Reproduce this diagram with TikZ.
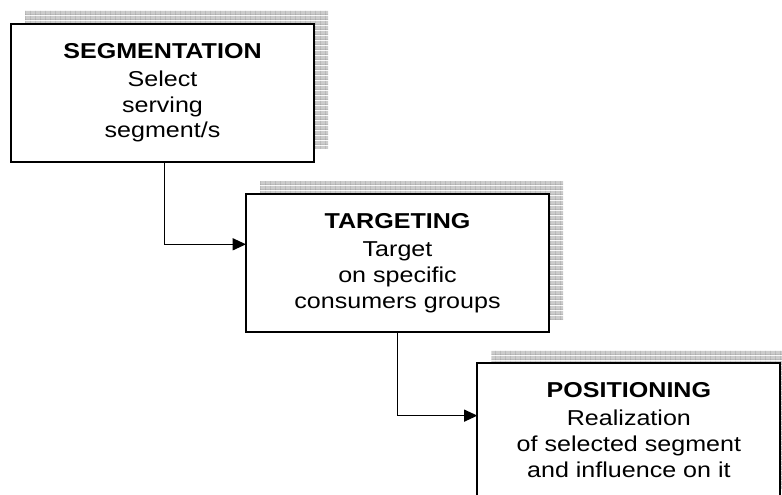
\documentclass[tikz,border=0pt]{standalone}
\usepackage{fontspec}
\setmainfont{Liberation Sans}
\usepackage{graphicx}
\usetikzlibrary{shadows}
\usetikzlibrary{positioning}
\usetikzlibrary{arrows.meta,patterns,calc}

\pgfdeclarepatterninherentlycolored{shadegrid}{\pgfpointorigin}{\pgfqpoint{3.75pt}{3.75pt}}{\pgfqpoint{3.75pt}{3.75pt}}{%
  \pgfsetfillcolor{gray!40}
  \pgfpathrectangle{\pgfpointorigin}{\pgfqpoint{3.75pt}{3.75pt}}
  \pgfusepath{fill}
  \pgfsetstrokecolor{gray!80}
  \pgfsetlinewidth{0.6pt}
  \pgfpathmoveto{\pgfpointorigin}
  \pgfpathlineto{\pgfqpoint{3.75pt}{0pt}}
  \pgfpathmoveto{\pgfpointorigin}
  \pgfpathlineto{\pgfqpoint{0pt}{3.75pt}}
  \pgfusepath{stroke}
}

\newcommand{\squash}[1]{\scalebox{1}[0.86]{\begin{tabular}{@{}c@{}}#1\end{tabular}}}

\tikzstyle{stage} = [draw, line width=1.4pt, fill=white, minimum width=227.25pt, minimum height=103.5pt, inner sep=0pt, outer sep=0pt, font=\fontsize{18.8}{22.4}\selectfont, general shadow={shadow xshift=10.5pt, shadow yshift=9.75pt, pattern=shadegrid}]
\tikzstyle{link} = [draw, line width=1.1pt, -{Triangle[length=10pt,width=9pt]}]

\begin{document}
\begin{tikzpicture}[x=0.75pt, y=-0.75pt]

  \clip (0, 0) rectangle (782, 495);

  \node[stage] (seg) at (162.5, 93) {\squash{\textbf{SEGMENTATION}\\[2pt]Select\\serving\\segment/s}};
  \node[stage] (tar) at (397.5, 263.3) {\squash{\textbf{TARGETING}\\[2pt]Target\\on specific\\consumers groups}};
  \node[stage] (pos) at (628.9, 432.3) {\squash{\textbf{POSITIONING}\\[2pt]Realization\\of selected segment\\and influence on it}};

  \coordinate (tarin) at ([yshift=14.25pt]tar.west);
  \coordinate (posin) at ([yshift=12.5pt]pos.west);

  \path[link] ([xshift=1.5pt]seg.south) |- (tarin);
  \path[link] (tar.south) |- (posin);

\end{tikzpicture}
\end{document}
